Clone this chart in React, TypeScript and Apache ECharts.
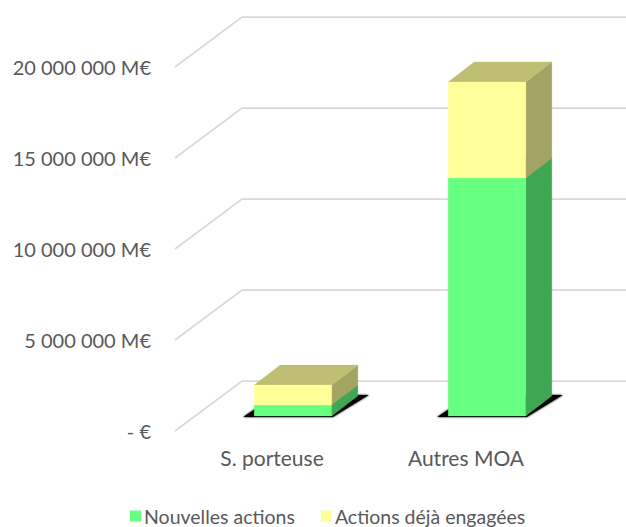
import React, { useEffect, useRef } from "react";
import * as echarts from "echarts";

const categories = ["S. porteuse", "Autres MOA"];
const nouvellesActions = [600000, 13080000];
const actionsEngagees = [1100000, 5270000];
const yTicks = [0, 5000000, 10000000, 15000000, 20000000];
const yTickLabels = ["- €", "5 000 000 M€", "10 000 000 M€", "15 000 000 M€", "20 000 000 M€"];
const seriesNames = ["Nouvelles actions", "Actions déjà engagées"];

const FONT = "Lato";
const TEXT = "#595959";
const WALL_DX = 67;
const WALL_DY = 50;
const BAR_FRONT_DX = 21;
const BAR_FRONT_DY = 15;
const SIDE_DX = 26;
const SIDE_DY = 20;

const prism = (front: string, side: string, top: string) => (_p: any, api: any) => {
  const i = api.value(0);
  const a = api.coord([i, api.value(1)]);
  const b = api.coord([i, api.value(2)]);
  const half = api.size([1, 0])[0] * 0.2;
  const cx = a[0] + BAR_FRONT_DX;
  const l = cx - half;
  const r = cx + half;
  const y0 = a[1] - BAR_FRONT_DY;
  const y1 = b[1] - BAR_FRONT_DY;
  const poly = (points: number[][], fill: string) => ({
    type: "polygon",
    shape: { points },
    style: { fill, stroke: fill, lineWidth: 0.3 },
  });
  return {
    type: "group",
    children: [
      poly([[r, y0], [r + SIDE_DX, y0 - SIDE_DY], [r + SIDE_DX, y1 - SIDE_DY], [r, y1]], side),
      poly([[l, y1], [r, y1], [r + SIDE_DX, y1 - SIDE_DY], [l + SIDE_DX, y1 - SIDE_DY]], top),
      poly([[l, y0], [r, y0], [r, y1], [l, y1]], front),
    ],
  };
};

export default function App() {
  const ref = useRef<HTMLDivElement>(null);
  useEffect(() => {
    document.body.style.margin = "0";
    const chart = echarts.init(ref.current!, null, { renderer: "svg" });
    const totals = nouvellesActions.map((v, i) => v + actionsEngagees[i]);
    chart.setOption({
      animation: false,
      backgroundColor: "#ffffff",
      grid: { left: 175, top: 67, width: 388, height: 364 },
      legend: {
        show: true,
        data: seriesNames,
        left: 130,
        top: 506,
        padding: 0,
        itemWidth: 11,
        itemHeight: 11,
        itemGap: 26,
        icon: "rect",
        textStyle: { fontFamily: FONT, fontSize: 19.5, color: TEXT, padding: [0, 0, 0, -2] },
      },
      xAxis: {
        type: "category",
        data: categories,
        axisLine: { show: false },
        axisTick: { show: false },
        splitLine: { show: false },
        axisLabel: { fontFamily: FONT, fontSize: 21, color: TEXT, margin: 16 },
      },
      yAxis: {
        type: "value",
        min: 0,
        max: 20000000,
        interval: 5000000,
        axisLine: { show: false },
        axisTick: { show: false },
        splitLine: { show: false },
        axisLabel: {
          fontFamily: FONT,
          fontSize: 20,
          color: TEXT,
          margin: 24,
          formatter: (v: number) => yTickLabels[yTicks.indexOf(v)],
        },
      },
      series: [
        {
          type: "custom",
          name: "walls",
          silent: true,
          z: 1,
          data: yTicks.map((v) => [0, v]),
          encode: { x: 0, y: 1 },
          renderItem: (p: any, api: any) => {
            const y = api.coord([0, api.value(1)])[1];
            const x = p.coordSys.x;
            return {
              type: "polyline",
              shape: {
                points: [[x, y], [x + WALL_DX, y - WALL_DY], [api.getWidth(), y - WALL_DY]],
              },
              style: { fill: "none", stroke: "#d9d9d9", lineWidth: 1.75 },
            };
          },
        },
        {
          type: "custom",
          name: "shadow",
          silent: true,
          z: 2,
          data: categories.map((_, i) => [i, 0, totals[i]]),
          encode: { x: 0, y: 1 },
          renderItem: (_p: any, api: any) => {
            const i = api.value(0);
            const a = api.coord([i, 0]);
            const half = api.size([1, 0])[0] * 0.2;
            const l = a[0] + BAR_FRONT_DX - half;
            const r = a[0] + BAR_FRONT_DX + half;
            const y = a[1] - BAR_FRONT_DY + 1;
            return {
              type: "polygon",
              shape: {
                points: [[l - 11, y], [r + 1, y], [r + 37, y - 22], [l + 22, y - 22]],
              },
              style: {
                fill: "#000000",
                stroke: "#000000",
                lineWidth: 0,
                shadowBlur: 2,
                shadowColor: "#000000",
              },
            };
          },
        },
        {
          type: "custom",
          name: seriesNames[0],
          z: 3,
          itemStyle: { color: "#66ff80" },
          data: categories.map((_, i) => [i, 0, nouvellesActions[i]]),
          encode: { x: 0, y: [1, 2] },
          renderItem: prism("#66ff80", "#3fa653", "#3fa653"),
        },
        {
          type: "custom",
          name: seriesNames[1],
          z: 4,
          itemStyle: { color: "#ffff99" },
          data: categories.map((_, i) => [i, nouvellesActions[i], totals[i]]),
          encode: { x: 0, y: [1, 2] },
          renderItem: prism("#ffff99", "#a3a363", "#bfbf73"),
        },
      ],
    });
    return () => chart.dispose();
  }, []);
  return <div ref={ref} style={{ width: 626, height: 527 }} />;
}
